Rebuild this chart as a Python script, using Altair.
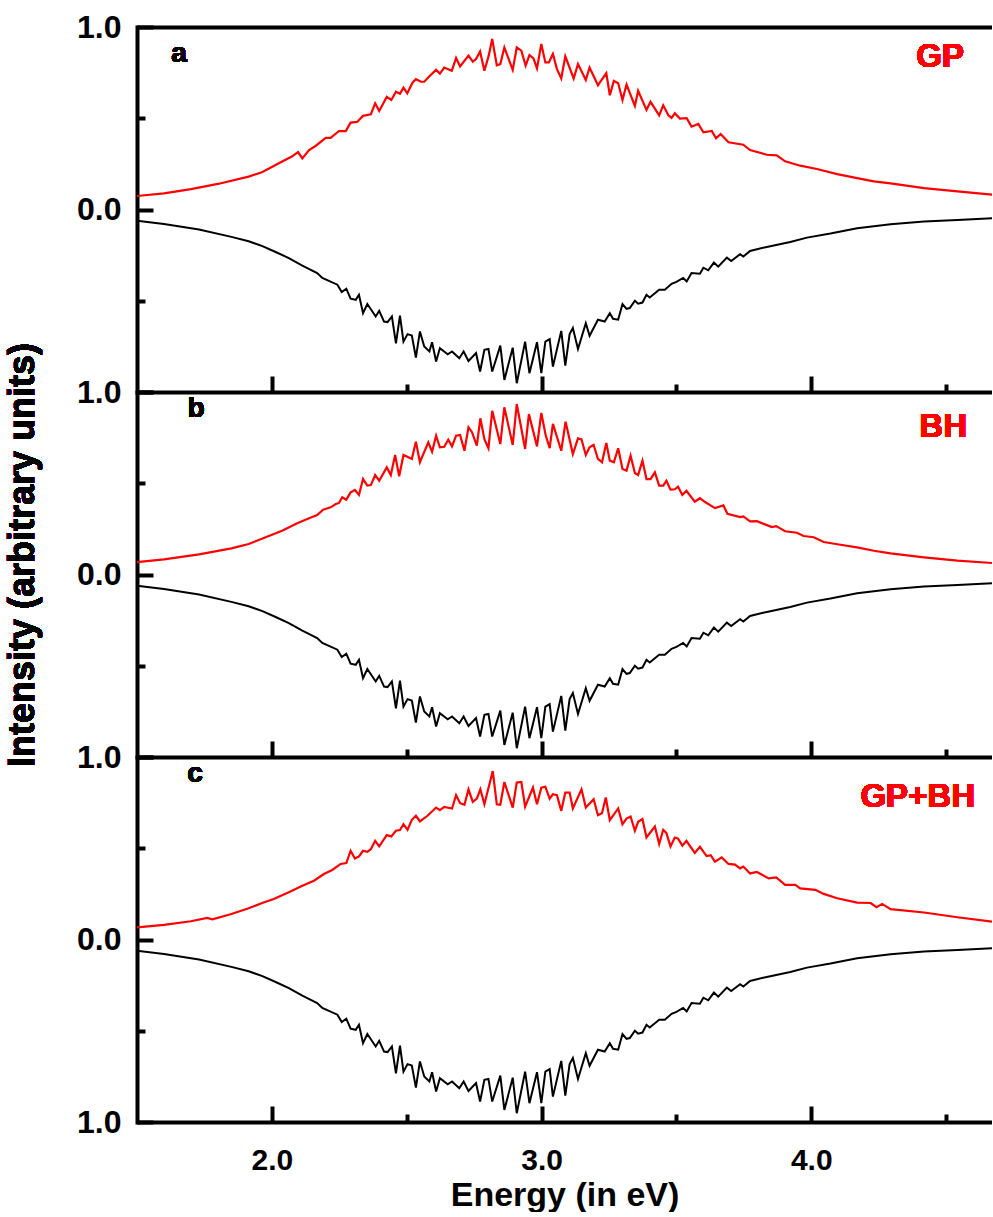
import altair as alt
import pandas as pd

# ---------------- data ----------------
black_x = [1.500, 1.600, 1.730, 1.850, 1.914, 1.965, 2.014, 2.063, 2.113, 2.168, 2.187, 2.243, 2.259, 2.276,
           2.292, 2.311, 2.323, 2.338, 2.354, 2.385, 2.398, 2.416, 2.429, 2.445, 2.460, 2.475, 2.488, 2.503,
           2.519, 2.534, 2.549, 2.565, 2.584, 2.594, 2.609, 2.623, 2.652, 2.668, 2.695, 2.711, 2.729, 2.757,
           2.772, 2.788, 2.803, 2.817, 2.847, 2.862, 2.893, 2.908, 2.939, 2.955, 2.983, 2.999, 3.014, 3.030,
           3.042, 3.073, 3.088, 3.104, 3.116, 3.135, 3.164, 3.178, 3.209, 3.234, 3.253, 3.265, 3.284, 3.300,
           3.315, 3.327, 3.346, 3.358, 3.374, 3.389, 3.401, 3.436, 3.457, 3.482, 3.500, 3.525, 3.538, 3.556,
           3.587, 3.600, 3.618, 3.639, 3.655, 3.687, 3.703, 3.736, 3.748, 3.773, 3.835, 3.922, 3.984, 4.071,
           4.170, 4.294, 4.418, 4.542, 4.670]
black_y = [-0.062, -0.080, -0.110, -0.150, -0.174, -0.201, -0.233, -0.266, -0.308, -0.348, -0.375, -0.412, -0.452, -0.434,
           -0.489, -0.495, -0.467, -0.568, -0.518, -0.586, -0.555, -0.614, -0.617, -0.586, -0.733, -0.582, -0.724, -0.683,
           -0.691, -0.811, -0.668, -0.751, -0.778, -0.727, -0.833, -0.760, -0.793, -0.778, -0.815, -0.778, -0.830, -0.787,
           -0.888, -0.769, -0.764, -0.888, -0.746, -0.934, -0.757, -0.952, -0.724, -0.897, -0.727, -0.897, -0.724, -0.710,
           -0.861, -0.665, -0.855, -0.683, -0.650, -0.764, -0.623, -0.692, -0.604, -0.614, -0.568, -0.599, -0.604, -0.518,
           -0.544, -0.540, -0.500, -0.516, -0.510, -0.467, -0.482, -0.440, -0.440, -0.407, -0.397, -0.375, -0.394, -0.348,
           -0.352, -0.319, -0.333, -0.291, -0.313, -0.264, -0.282, -0.245, -0.258, -0.227, -0.205, -0.178, -0.154, -0.132,
           -0.103, -0.081, -0.066, -0.057, -0.048]

red_a_x = [1.500, 1.600, 1.700, 1.800, 1.914, 1.965, 2.026, 2.074, 2.097, 2.113, 2.138, 2.162, 2.200, 2.218,
           2.249, 2.274, 2.292, 2.316, 2.338, 2.367, 2.383, 2.398, 2.426, 2.443, 2.460, 2.475, 2.488, 2.502,
           2.522, 2.534, 2.553, 2.565, 2.584, 2.609, 2.623, 2.639, 2.667, 2.683, 2.698, 2.729, 2.745, 2.757,
           2.772, 2.788, 2.804, 2.817, 2.834, 2.847, 2.862, 2.893, 2.908, 2.925, 2.941, 2.955, 2.970, 2.983,
           2.999, 3.014, 3.027, 3.042, 3.057, 3.073, 3.088, 3.119, 3.135, 3.164, 3.178, 3.209, 3.240, 3.253,
           3.268, 3.284, 3.300, 3.315, 3.346, 3.358, 3.389, 3.404, 3.436, 3.451, 3.470, 3.482, 3.494, 3.513,
           3.538, 3.556, 3.581, 3.600, 3.631, 3.647, 3.664, 3.693, 3.748, 3.773, 3.835, 3.872, 3.903, 3.959,
           4.021, 4.096, 4.170, 4.232, 4.294, 4.418, 4.542, 4.670]
red_a_y = [0.074, 0.088, 0.112, 0.140, 0.180, 0.205, 0.253, 0.290, 0.315, 0.280, 0.326, 0.348, 0.392, 0.392,
           0.430, 0.430, 0.476, 0.480, 0.513, 0.522, 0.582, 0.540, 0.617, 0.600, 0.645, 0.634, 0.668, 0.637,
           0.696, 0.714, 0.700, 0.700, 0.730, 0.765, 0.745, 0.778, 0.760, 0.830, 0.784, 0.843, 0.810, 0.824,
           0.866, 0.760, 0.843, 0.934, 0.790, 0.797, 0.888, 0.765, 0.888, 0.870, 0.788, 0.846, 0.828, 0.773,
           0.907, 0.806, 0.806, 0.852, 0.769, 0.718, 0.839, 0.718, 0.797, 0.710, 0.778, 0.681, 0.747, 0.626,
           0.705, 0.692, 0.600, 0.685, 0.568, 0.650, 0.546, 0.590, 0.516, 0.571, 0.516, 0.502, 0.527, 0.498,
           0.500, 0.454, 0.469, 0.423, 0.430, 0.390, 0.414, 0.368, 0.355, 0.326, 0.300, 0.297, 0.264, 0.240,
           0.222, 0.194, 0.172, 0.154, 0.143, 0.117, 0.099, 0.081]

red_b_x = [1.500, 1.600, 1.730, 1.850, 1.914, 1.977, 2.038, 2.088, 2.131, 2.168, 2.190, 2.218, 2.237, 2.249,
           2.261, 2.276, 2.292, 2.308, 2.323, 2.338, 2.354, 2.367, 2.383, 2.398, 2.426, 2.441, 2.457, 2.472,
           2.488, 2.519, 2.534, 2.549, 2.580, 2.594, 2.609, 2.623, 2.639, 2.654, 2.668, 2.683, 2.698, 2.714,
           2.729, 2.742, 2.760, 2.773, 2.788, 2.803, 2.817, 2.847, 2.862, 2.893, 2.908, 2.939, 2.953, 2.983,
           2.999, 3.015, 3.030, 3.042, 3.073, 3.089, 3.116, 3.135, 3.148, 3.164, 3.178, 3.193, 3.209, 3.224,
           3.240, 3.253, 3.268, 3.284, 3.300, 3.315, 3.330, 3.346, 3.358, 3.374, 3.389, 3.404, 3.420, 3.436,
           3.451, 3.463, 3.478, 3.494, 3.506, 3.522, 3.537, 3.568, 3.587, 3.606, 3.643, 3.674, 3.689, 3.736,
           3.748, 3.773, 3.798, 3.854, 3.870, 3.903, 3.947, 3.971, 4.009, 4.046, 4.108, 4.170, 4.232, 4.294,
           4.418, 4.542, 4.670]
red_b_y = [0.068, 0.083, 0.110, 0.143, 0.167, 0.204, 0.240, 0.277, 0.304, 0.326, 0.355, 0.368, 0.386, 0.392,
           0.423, 0.410, 0.450, 0.463, 0.436, 0.523, 0.487, 0.490, 0.545, 0.514, 0.587, 0.545, 0.655, 0.538,
           0.655, 0.633, 0.728, 0.615, 0.724, 0.673, 0.761, 0.697, 0.700, 0.739, 0.702, 0.761, 0.765, 0.678,
           0.807, 0.780, 0.706, 0.856, 0.742, 0.692, 0.897, 0.715, 0.916, 0.710, 0.934, 0.688, 0.879, 0.702,
           0.885, 0.764, 0.692, 0.825, 0.678, 0.837, 0.660, 0.746, 0.740, 0.655, 0.697, 0.710, 0.633, 0.615,
           0.721, 0.624, 0.615, 0.692, 0.578, 0.569, 0.651, 0.556, 0.545, 0.624, 0.523, 0.523, 0.560, 0.487,
           0.487, 0.514, 0.465, 0.467, 0.481, 0.436, 0.459, 0.399, 0.418, 0.397, 0.364, 0.379, 0.333, 0.315,
           0.318, 0.291, 0.292, 0.260, 0.265, 0.237, 0.229, 0.211, 0.204, 0.178, 0.163, 0.149, 0.130, 0.116,
           0.094, 0.076, 0.063]

red_c_x = [1.500, 1.600, 1.700, 1.760, 1.780, 1.850, 1.914, 1.964, 2.007, 2.063, 2.113, 2.156, 2.193, 2.224,
           2.255, 2.276, 2.292, 2.308, 2.323, 2.338, 2.354, 2.367, 2.383, 2.398, 2.426, 2.443, 2.460, 2.475,
           2.488, 2.503, 2.519, 2.534, 2.549, 2.577, 2.609, 2.623, 2.639, 2.668, 2.683, 2.698, 2.714, 2.729,
           2.745, 2.760, 2.773, 2.788, 2.819, 2.834, 2.847, 2.862, 2.893, 2.908, 2.925, 2.939, 2.968, 2.983,
           2.999, 3.014, 3.030, 3.042, 3.057, 3.073, 3.088, 3.104, 3.116, 3.148, 3.164, 3.193, 3.209, 3.224,
           3.238, 3.253, 3.284, 3.300, 3.315, 3.330, 3.346, 3.358, 3.374, 3.389, 3.420, 3.436, 3.451, 3.463,
           3.478, 3.494, 3.506, 3.522, 3.537, 3.568, 3.587, 3.612, 3.627, 3.643, 3.668, 3.693, 3.717, 3.736,
           3.748, 3.773, 3.798, 3.842, 3.870, 3.903, 3.941, 3.959, 4.015, 4.046, 4.096, 4.170, 4.220, 4.242,
           4.263, 4.294, 4.418, 4.542, 4.670]
red_c_y = [0.066, 0.080, 0.100, 0.118, 0.110, 0.140, 0.171, 0.200, 0.222, 0.259, 0.295, 0.322, 0.359, 0.381,
           0.414, 0.419, 0.486, 0.444, 0.455, 0.486, 0.480, 0.495, 0.541, 0.510, 0.572, 0.565, 0.596, 0.600,
           0.632, 0.601, 0.656, 0.678, 0.647, 0.678, 0.723, 0.709, 0.727, 0.718, 0.791, 0.747, 0.738, 0.823,
           0.754, 0.772, 0.823, 0.741, 0.923, 0.741, 0.738, 0.863, 0.723, 0.860, 0.863, 0.728, 0.832, 0.741,
           0.832, 0.837, 0.772, 0.796, 0.791, 0.705, 0.805, 0.805, 0.718, 0.823, 0.723, 0.769, 0.681, 0.692,
           0.778, 0.654, 0.718, 0.632, 0.663, 0.674, 0.596, 0.645, 0.660, 0.559, 0.619, 0.523, 0.601, 0.583,
           0.510, 0.559, 0.553, 0.514, 0.541, 0.474, 0.508, 0.457, 0.462, 0.426, 0.450, 0.414, 0.410, 0.390,
           0.400, 0.362, 0.370, 0.335, 0.340, 0.299, 0.300, 0.280, 0.272, 0.250, 0.226, 0.202, 0.200, 0.177,
           0.195, 0.166, 0.148, 0.122, 0.098]

x_major_ticks = [2.0, 3.0, 4.0]
x_minor_ticks = [2.5, 3.5, 4.5]
y_major_ticks = [-1.0, 0.0, 1.0]
y_minor_ticks = [-0.5, 0.5]

panel_letters = ["a", "b", "c"]
panel_names = ["GP", "BH", "GP+BH"]

# ---------------- chart ----------------
FONT = "Liberation Sans"
X_DOMAIN = [1.5, 4.67]
W, H = 855, 365
MAJ, MIN = 16, 8


def panel(red_x, red_y, letter, name, letter_pos, name_pos, bottom, top_panel, ytitle):
    red_df = pd.DataFrame({"energy": red_x, "intensity": red_y})
    blk_df = pd.DataFrame({"energy": black_x, "intensity": black_y})
    xs = alt.Scale(domain=X_DOMAIN, nice=False, zero=False)
    ys = alt.Scale(domain=[-1, 1], nice=False, zero=False)

    xmaj_kw = dict(values=x_major_ticks, orient="bottom", offset=-MAJ, tickSize=MAJ, tickWidth=4,
                   tickColor="black", domain=False, grid=False, labels=bottom,
                   labelFont=FONT, labelFontSize=30, labelFontWeight="bold", labelColor="black",
                   labelPadding=23, format=".1f")
    if bottom:
        xmaj_kw.update(titleFont=FONT, titleFontSize=34, titleFontWeight="bold",
                       titleColor="black", titlePadding=3)
    xmaj = alt.Axis(**xmaj_kw)
    xmin = alt.Axis(values=x_minor_ticks, orient="bottom", offset=-MIN, tickSize=MIN, tickWidth=4,
                    tickColor="black", domain=False, grid=False, labels=False)
    if top_panel:
        lab = "format(abs(datum.value), '.1f')"
    else:
        lab = "datum.value > 0.5 ? '' : format(abs(datum.value), '.1f')"
    ymaj = alt.Axis(values=y_major_ticks, orient="left", offset=-MAJ, tickSize=MAJ, tickWidth=4,
                    tickColor="black", domain=False, grid=False, labelExpr=lab,
                    labelFont=FONT, labelFontSize=32, labelFontWeight="bold", labelColor="black",
                    labelPadding=16)
    ymin = alt.Axis(values=y_minor_ticks, orient="left", offset=-MIN, tickSize=MIN, tickWidth=4,
                    tickColor="black", domain=False, grid=False, labels=False)
    x_frame = alt.Axis(orient="bottom", domain=True, domainWidth=4, domainColor="black",
                       domainCap="butt", ticks=False, labels=False, grid=False)
    y_frame = alt.Axis(orient="left", domain=True, domainWidth=4, domainColor="black",
                       domainCap="square", ticks=False, labels=False, grid=False)

    red = alt.Chart(red_df).mark_line(color="#ff0000", strokeWidth=2.2, clip=True).encode(
        x=alt.X("energy:Q", scale=xs, axis=xmaj, title="Energy (in eV)" if bottom else None),
        y=alt.Y("intensity:Q", scale=ys, axis=ymaj, title=None),
    )
    blk = alt.Chart(blk_df).mark_line(color="black", strokeWidth=2, clip=True).encode(
        x=alt.X("energy:Q", scale=xs, axis=xmin, title=None),
        y=alt.Y("intensity:Q", scale=ys, axis=ymin, title=None),
    )
    frame = alt.Chart(blk_df).mark_line(opacity=0).encode(
        x=alt.X("energy:Q", scale=xs, axis=x_frame, title=None),
        y=alt.Y("intensity:Q", scale=ys, axis=y_frame, title=None),
    )
    t_letter = alt.Chart(red_df).mark_text(text=letter, font=FONT, fontSize=28, fontWeight="bold",
                                           color="black", align="center", baseline="middle").encode(
        x=alt.value(letter_pos[0]), y=alt.value(letter_pos[1]))
    t_name = alt.Chart(red_df).mark_text(text=name, font=FONT, fontSize=33, fontWeight="bold",
                                         color="#ff0000", align="right", baseline="middle").encode(
        x=alt.value(name_pos[0]), y=alt.value(name_pos[1]))
    layers = [frame, red, blk, t_letter, t_name]
    if top_panel:
        x_top = alt.Axis(orient="top", domain=True, domainWidth=4, domainColor="black",
                         domainCap="butt", ticks=False, labels=False, grid=False)
        top = alt.Chart(blk_df).mark_line(opacity=0).encode(
            x=alt.X("energy:Q", scale=xs, axis=x_top, title=None),
            y=alt.Y("intensity:Q", scale=ys, axis=None),
        )
        layers.append(top)
    if ytitle:
        t_title = alt.Chart(red_df).mark_text(text="Intensity (arbitrary units)", font=FONT, fontSize=36,
                                              fontWeight="bold", color="black", angle=270,
                                              align="center", baseline="alphabetic").encode(
            x=alt.value(-103), y=alt.value(163))
        layers.append(t_title)
    return alt.layer(*layers).resolve_axis(x="independent", y="independent").properties(width=W, height=H)


pa = panel(red_a_x, red_a_y, panel_letters[0], panel_names[0], (42, 27), (827, 30), False, True, False)
pb = panel(red_b_x, red_b_y, panel_letters[1], panel_names[1], (59, 17), (830, 35), False, False, True)
pc = panel(red_c_x, red_c_y, panel_letters[2], panel_names[2], (58, 17), (838, 40), True, False, False)

chart = alt.vconcat(pa, pb, pc, spacing=0, bounds="flush").properties(
    padding={"left": 4, "top": 11, "right": 0, "bottom": 0}
).configure_view(strokeWidth=0)

chart.save("out.html", embed_options={"renderer": "svg", "actions": False})
